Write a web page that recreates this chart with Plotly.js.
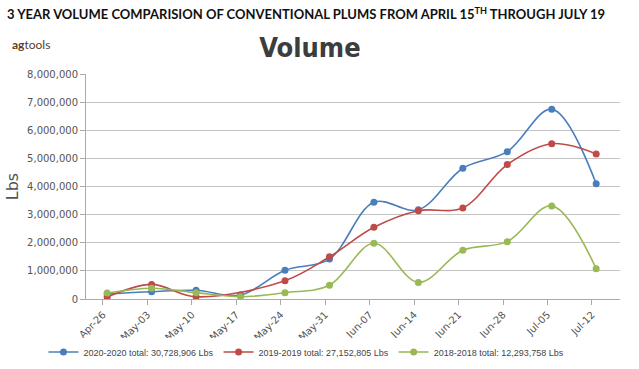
<!DOCTYPE html>
<html>
<head>
<meta charset="utf-8">
<script src="https://cdn.plot.ly/plotly-3.0.1.min.js"></script>
<style>html,body{margin:0;padding:0;background:#fff;}#chart{width:639px;height:369px;}</style>
</head>
<body>
<div id="chart"></div>
<script>
const weeks = ['2020-04-26','2020-05-03','2020-05-10','2020-05-17','2020-05-24','2020-05-31',
               '2020-06-07','2020-06-14','2020-06-21','2020-06-28','2020-07-05','2020-07-12'];
const seriesNames = ['2020-2020 total: 30,728,906 Lbs','2019-2019 total: 27,152,805 Lbs','2018-2018 total: 12,293,758 Lbs'];
const vol2020 = [180000, 260000, 310000, 140000, 1020000, 1420000, 3440000, 3170000, 4650000, 5240000, 6750000, 4100000];
const vol2019 = [70000, 520000, 80000, null, 650000, 1500000, 2550000, 3140000, 3240000, 4780000, 5520000, 5160000];
const vol2018 = [210000, 380000, 225000, 80000, 225000, 490000, 1980000, 590000, 1730000, 2040000, 3310000, 1080000];
const colors = ['#4a7ebb', '#be4b48', '#98b954'];

const xs = weeks.map(d => d + ' 16:00');
const allSeries = [vol2020, vol2019, vol2018];
const traces = allSeries.map((ys, i) => ({
  x: xs, y: ys, name: seriesNames[i], type: 'scatter', mode: 'lines+markers',
  connectgaps: true,
  line: {color: colors[i], width: 1.6, shape: 'spline', smoothing: 1},
  marker: {color: colors[i], size: 7}
}));

const layout = {
  width: 639, height: 369,
  margin: {l: 86, r: 19, t: 74, b: 70},
  paper_bgcolor: '#fff', plot_bgcolor: '#fff',
  font: {family: 'DejaVu Sans, sans-serif', color: '#555'},
  title: {text: 'Volume', x: 0.485, xanchor: 'center', y: 0.87, yanchor: 'middle',
          font: {family: 'DejaVu Sans Condensed, sans-serif', size: 27, weight: 'bold', color: '#3d3d3d'}},
  xaxis: {
    type: 'date', range: ['2020-04-23 08:00', '2020-07-16 10:00'], automargin: false,
    tick0: '2020-04-26', dtick: 7 * 86400000, tickformat: '%b-%d', tickangle: -45,
    ticks: 'outside', ticklen: 5, tickcolor: '#aaa',
    showline: true, linecolor: '#aaa', linewidth: 1, showgrid: false, zeroline: false,
    tickfont: {size: 10, color: '#555', family: 'DejaVu Sans, sans-serif'}
  },
  yaxis: {
    range: [0, 8000000], dtick: 1000000, tickformat: ',d', automargin: false,
    ticks: 'outside', ticklen: 5, tickcolor: '#aaa',
    showline: true, linecolor: '#aaa', linewidth: 1,
    gridcolor: '#c4c4c4', gridwidth: 1.3, zeroline: false,
    tickfont: {size: 10, color: '#555', family: 'DejaVu Sans, sans-serif'},
    title: {text: 'Lbs', standoff: 4, font: {size: 16, color: '#555', family: 'DejaVu Sans, sans-serif'}}
  },
  showlegend: true,
  legend: {orientation: 'h', xref: 'container', yref: 'container', x: 0.068, xanchor: 'left',
           y: 0.046, yanchor: 'middle',
           font: {size: 9, color: '#444', family: 'Liberation Sans, sans-serif'}, itemwidth: 30},
  annotations: [
    {text: '<b>3 YEAR VOLUME COMPARISION OF CONVENTIONAL PLUMS FROM APRIL 15<sup>TH</sup> THROUGH JULY 19</b>',
     xref: 'paper', yref: 'paper', x: -0.1517, y: 1.2667, xanchor: 'left', yanchor: 'middle',
     showarrow: false, font: {family: 'Lato, sans-serif', size: 13, color: '#111'}},
    {text: '<b>ag</b>tools', xref: 'paper', yref: 'paper', x: -0.1423, y: 1.1333,
     xanchor: 'left', yanchor: 'middle', showarrow: false,
     font: {family: 'Lato, sans-serif', size: 12, color: '#5a3d2b'}}
  ]
};

Plotly.newPlot('chart', traces, layout, {displayModeBar: false, responsive: false});
</script>
</body>
</html>
